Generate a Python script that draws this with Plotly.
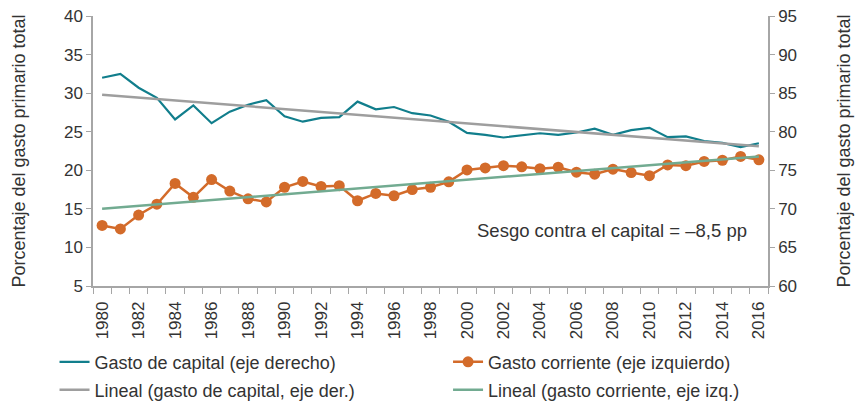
import plotly.graph_objects as go

years = list(range(1980, 2017))

# Gasto de capital (eje derecho), % del gasto primario total
gasto_capital = [87.0, 87.5, 85.7, 84.4, 81.6, 83.4, 81.1, 82.6, 83.5, 84.1,
                 82.0, 81.3, 81.8, 81.9, 83.9, 82.9, 83.2, 82.4, 82.1, 81.3,
                 79.85, 79.6, 79.25, 79.5, 79.8, 79.6, 79.9, 80.4, 79.6, 80.2,
                 80.5, 79.3, 79.4, 78.8, 78.55, 78.0, 78.5]

# Gasto corriente (eje izquierdo)
gasto_corriente = [12.85, 12.4, 14.2, 15.6, 18.3, 16.5, 18.8, 17.3, 16.3, 15.9,
                   17.8, 18.55, 17.9, 18.0, 16.05, 17.0, 16.7, 17.5, 17.8, 18.5,
                   20.05, 20.3, 20.6, 20.45, 20.2, 20.4, 19.75, 19.5, 20.15, 19.7,
                   19.3, 20.7, 20.6, 21.15, 21.3, 21.8, 21.35]

# Tendencias lineales (extremos)
trend_years = [1980, 2016]
trend_capital = [84.8, 78.1]
trend_corriente = [15.0, 21.8]

xtick_vals = list(range(1980, 2017, 2))
xtick_text = [str(y) for y in xtick_vals]

FONT = "Liberation Sans, Arial, sans-serif"
TXT = "#333333"
AXC = "#a6a6a6"

C_CAP = "#117e8c"
C_COR = "#d36b2a"
C_TCAP = "#9e9e9e"
C_TCOR = "#72ab91"

fig = go.Figure()

fig.add_trace(go.Scatter(
    x=years, y=gasto_capital, yaxis="y2", mode="lines",
    line=dict(color=C_CAP, width=2.2),
    name="Gasto de capital (eje derecho)", legend="legend"))

fig.add_trace(go.Scatter(
    x=years, y=gasto_corriente, yaxis="y", mode="lines+markers",
    line=dict(color=C_COR, width=2.5),
    marker=dict(color=C_COR, size=11),
    name="Gasto corriente (eje izquierdo)", legend="legend2"))

fig.add_trace(go.Scatter(
    x=trend_years, y=trend_capital, yaxis="y2", mode="lines",
    line=dict(color=C_TCAP, width=2.5),
    name="Lineal (gasto de capital, eje der.)", legend="legend3"))

fig.add_trace(go.Scatter(
    x=trend_years, y=trend_corriente, yaxis="y", mode="lines",
    line=dict(color=C_TCOR, width=2.5),
    name="Lineal (gasto corriente, eje izq.)", legend="legend4"))

leg_common = dict(orientation="h", yanchor="middle", xanchor="left",
                  bgcolor="rgba(0,0,0,0)", borderwidth=0,
                  font=dict(family=FONT, size=18, color=TXT))

fig.add_annotation(
    text="Sesgo contra el capital = \u20138,5 pp",
    xref="paper", yref="paper", x=0.972, y=0.207,
    xanchor="right", yanchor="middle", showarrow=False,
    font=dict(family=FONT, size=18.5, color=TXT))

fig.update_layout(
    width=856, height=402,
    margin=dict(l=93, r=88, t=16, b=116, autoexpand=False),
    paper_bgcolor="white", plot_bgcolor="white",
    font=dict(family=FONT, size=17, color=TXT),
    showlegend=True,
    legend=dict(x=-0.057, y=-0.282, **leg_common),
    legend2=dict(x=0.526, y=-0.282, **leg_common),
    legend3=dict(x=-0.057, y=-0.385, **leg_common),
    legend4=dict(x=0.526, y=-0.385, **leg_common),
    xaxis=dict(
        range=[1979.5, 2016.5], tickmode="array",
        tickvals=xtick_vals, ticktext=xtick_text, tickangle=-90,
        ticks="outside", ticklen=7, tickcolor="rgba(0,0,0,0)",
        showline=True, linecolor=AXC, linewidth=1.5,
        showgrid=False, zeroline=False, automargin=False,
        tickfont=dict(family=FONT, size=17, color=TXT),
        minor=dict(tickmode="linear", tick0=1979.5, dtick=1,
                   ticks="outside", ticklen=6, tickcolor=AXC, tickwidth=1,
                   showgrid=False),
    ),
    yaxis=dict(
        range=[5, 40], dtick=5, tick0=5,
        ticks="outside", ticklen=5, tickcolor=AXC, tickwidth=1,
        showline=True, linecolor=AXC, linewidth=1.5,
        showgrid=False, zeroline=False, automargin=False,
        tickfont=dict(family=FONT, size=17, color=TXT),
        title=dict(text="Porcentaje del gasto primario total",
                   font=dict(family=FONT, size=18, color=TXT), standoff=34),
    ),
    yaxis2=dict(
        range=[60, 95], dtick=5, tick0=60, overlaying="y", side="right",
        ticks="outside", ticklen=5, tickcolor=AXC, tickwidth=1,
        showline=True, linecolor=AXC, linewidth=1.5,
        showgrid=False, zeroline=False, automargin=False,
        tickfont=dict(family=FONT, size=17, color=TXT),
        title=dict(text="Porcentaje del gasto primario total",
                   font=dict(family=FONT, size=18, color=TXT), standoff=41),
    ),
)

fig.write_html("out.html",
               config={"displayModeBar": False},
               post_script="document.body.style.margin='0px';document.body.style.overflow='hidden';")
